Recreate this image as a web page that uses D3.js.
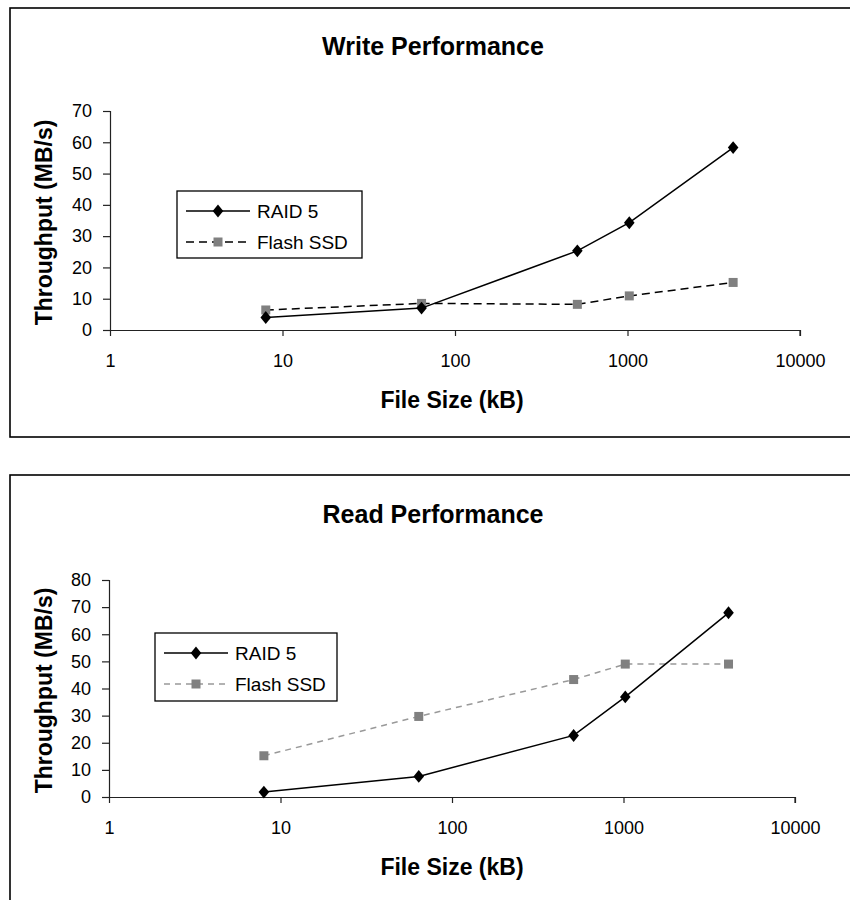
<!DOCTYPE html>
<html>
<head>
<meta charset="utf-8">
<script src="https://cdn.jsdelivr.net/npm/d3@7"></script>
<style>
  body { margin: 0; background: #fff; }
  text { font-family: "Liberation Sans", Arial, sans-serif; }
</style>
</head>
<body>
<script>
const width = 850;
const height = 900;

// data
const fileSizes = [8, 64, 512, 1024, 4096];
const xTicks = [1, 10, 100, 1000, 10000];

const writeRaid = [4, 7, 25.3, 34.3, 58.3];
const writeFlash = [6.4, 8.5, 8.2, 10.9, 15.2];
const writeYTicks = [0, 10, 20, 30, 40, 50, 60, 70];

const readRaid = [1.8, 7.6, 22.7, 36.9, 67.9];
const readFlash = [15.2, 29.7, 43.3, 49, 49];
const readYTicks = [0, 10, 20, 30, 40, 50, 60, 70, 80];

const seriesNames = ["RAID 5", "Flash SSD"];

const svg = d3.select("body")
	.append("svg")
	.attr("width", width)
	.attr("height", height);

const charts = [
	{
		title: "Write Performance", top: 8, frameH: 429,
		raid: writeRaid, flash: writeFlash, yTicks: writeYTicks,
		xRange: [110, 800], yRange: [330, 111],
		titleY: 55, legend: { x: 177, y: 191, w: 185, h: 67 },
		flashLine: "#000", flashDash: "8,5"
	},
	{
		title: "Read Performance", top: 475, frameH: 440,
		raid: readRaid, flash: readFlash, yTicks: readYTicks,
		xRange: [109, 795], yRange: [797, 580],
		titleY: 523, legend: { x: 155, y: 633, w: 182, h: 68 },
		flashLine: "#999", flashDash: "6,5"
	}
];

const diamond = d3.symbol().type(d3.symbolDiamond2).size(88);

charts.forEach(drawChart);

function drawChart(c) {
	const g = svg.append("g");

	// frame
	g.append("rect")
		.attr("x", 10)
		.attr("y", c.top)
		.attr("width", 860)
		.attr("height", c.frameH)
		.attr("fill", "none")
		.attr("stroke", "#000")
		.attr("stroke-width", 1.6);

	const x = d3.scaleLog().domain([1, 10000]).range(c.xRange);
	const y = d3.scaleLinear().domain([0, c.yTicks[c.yTicks.length - 1]]).range(c.yRange);

	g.append("text")
		.attr("x", 433)
		.attr("y", c.titleY)
		.attr("text-anchor", "middle")
		.attr("font-size", "25px")
		.attr("font-weight", "bold")
		.text(c.title);

	// axes
	const xAxis = g.append("g")
		.attr("transform", "translate(0," + y(0) + ")")
		.call(d3.axisBottom(x).tickValues(xTicks).tickFormat(d3.format("d")).tickSize(6).tickPadding(18));
	const yAxis = g.append("g")
		.attr("transform", "translate(" + x(1) + ",0)")
		.call(d3.axisLeft(y).tickValues(c.yTicks).tickSize(7).tickPadding(11));

	[xAxis, yAxis].forEach(function (a) {
		a.select(".domain").attr("stroke", "#222").attr("stroke-width", 1.2);
		a.selectAll(".tick line").attr("stroke", "#222").attr("stroke-width", 1.2);
		a.selectAll(".tick text")
			.attr("fill", "#000")
			.attr("font-size", "18px")
			.attr("font-family", "'Liberation Sans', Arial, sans-serif");
	});
	xAxis.select(".domain").attr("d", "M" + (x(1) - 7) + ",0.5H" + x(10000) + "V6");

	g.append("text")
		.attr("x", 452)
		.attr("y", y(0) + 78)
		.attr("text-anchor", "middle")
		.attr("font-size", "23px")
		.attr("font-weight", "bold")
		.text("File Size (kB)");

	g.append("text")
		.attr("transform", "translate(52," + ((c.yRange[0] + c.yRange[1]) / 2 + 2) + ") rotate(-90)")
		.attr("text-anchor", "middle")
		.attr("font-size", "23px")
		.attr("font-weight", "bold")
		.text("Throughput (MB/s)");

	const line = d3.line()
		.x(function (d) { return x(d[0]); })
		.y(function (d) { return y(d[1]); });

	const flashPts = d3.zip(fileSizes, c.flash);
	const raidPts = d3.zip(fileSizes, c.raid);

	g.append("path")
		.attr("d", line(flashPts))
		.attr("fill", "none")
		.attr("stroke", c.flashLine)
		.attr("stroke-width", 1.5)
		.attr("stroke-dasharray", c.flashDash);

	g.selectAll(".sq")
		.data(flashPts)
		.enter()
		.append("rect")
		.attr("x", function (d) { return x(d[0]) - 4.5; })
		.attr("y", function (d) { return y(d[1]) - 4.5; })
		.attr("width", 9)
		.attr("height", 9)
		.attr("fill", "#808080");

	g.append("path")
		.attr("d", line(raidPts))
		.attr("fill", "none")
		.attr("stroke", "#000")
		.attr("stroke-width", 1.5);

	g.selectAll(".dm")
		.data(raidPts)
		.enter()
		.append("path")
		.attr("d", diamond)
		.attr("transform", function (d) { return "translate(" + x(d[0]) + "," + y(d[1]) + ") scale(0.9,1.1)"; })
		.attr("fill", "#000");

	// legend
	const L = c.legend;
	const lg = g.append("g").attr("transform", "translate(" + L.x + "," + L.y + ")");
	lg.append("rect")
		.attr("width", L.w)
		.attr("height", L.h)
		.attr("fill", "#fff")
		.attr("stroke", "#000")
		.attr("stroke-width", 1.3);

	const rowY = [20, 51];
	lg.append("line")
		.attr("x1", 9).attr("x2", 73)
		.attr("y1", rowY[0]).attr("y2", rowY[0])
		.attr("stroke", "#000").attr("stroke-width", 1.5);
	lg.append("path")
		.attr("d", diamond)
		.attr("transform", "translate(41," + rowY[0] + ") scale(0.9,1.1)")
		.attr("fill", "#000");
	lg.append("line")
		.attr("x1", 9).attr("x2", 73)
		.attr("y1", rowY[1]).attr("y2", rowY[1])
		.attr("stroke", c.flashLine).attr("stroke-width", 1.5)
		.attr("stroke-dasharray", c.flashDash);
	lg.append("rect")
		.attr("x", 36.5).attr("y", rowY[1] - 4.5)
		.attr("width", 9).attr("height", 9)
		.attr("fill", "#808080");

	lg.selectAll(".lt")
		.data(seriesNames)
		.enter()
		.append("text")
		.attr("x", 80)
		.attr("y", function (d, i) { return rowY[i]; })
		.attr("dy", "0.35em")
		.attr("font-size", "19px")
		.text(function (d) { return d; });
}
</script>
</body>
</html>
